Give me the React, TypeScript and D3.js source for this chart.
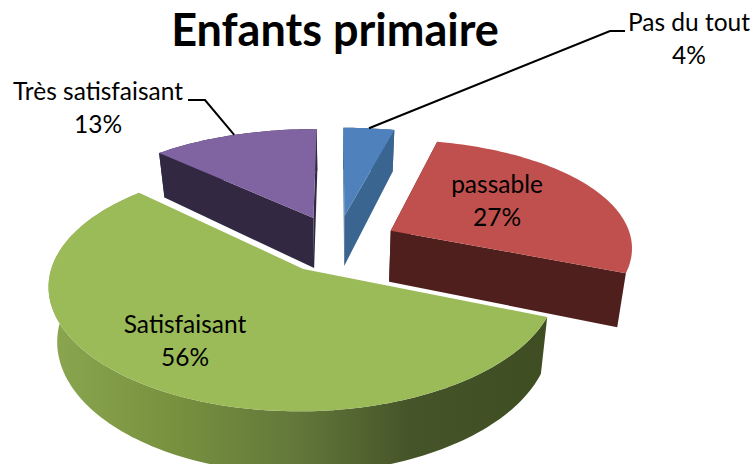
import React from 'react';
import * as d3 from 'd3';

const categories = ['Pas du tout', 'passable', 'Satisfaisant', 'Très satisfaisant'];
const values = [4, 27, 56, 13];
const topColors = ['#4F81BD', '#C0504D', '#9BBB59', '#8064A2'];
const faceColors = ['#3A6591', '#4F1F1E', '#3F4D22', '#332842'];

const width = 755;
const height = 464;
const fontFamily = 'Lato, "Open Sans", sans-serif';

// fake 3d pie: disc in a tilted plane, things further back get smaller
const cx = 337;
const cy = 243.6;
const radiusX = 245;
const radiusY = 116;
const perspectiveX = 0.135;
const perspectiveY = 0.16;
const explode = 0.25;
const depth = 52;
const bottomShrink = 0.97;

// the red slice sits a bit tighter than a true circle in the original
const rimScale = [1, 0.975, 1, 1];
const rimShift = [0, 0.012, 0, 0];

type Pt = [number, number];

const project = (u: number, v: number, lowered = false): Pt => {
  const sx = 1 + perspectiveX * v;
  const sy = 1 + perspectiveY * v;
  const x = radiusX * u * sx;
  const y = radiusY * v * sy;
  if (!lowered) return [cx + x, cy + y];
  return [cx + x * bottomShrink, cy + y + depth * sy];
};

const pieAngles = d3.pie<number>().sort(null)(values);

const rimPoints = (slice: d3.PieArcDatum<number>, lowered = false): Pt[] => {
  const mid = (slice.startAngle + slice.endAngle) / 2;
  const du = Math.sin(mid) * explode + rimShift[slice.index];
  const dv = -Math.cos(mid) * explode;
  const r = rimScale[slice.index];
  const n = Math.ceil((slice.endAngle - slice.startAngle) * 40);
  return d3.range(n + 1).map(i => {
    const a = slice.startAngle + ((slice.endAngle - slice.startAngle) * i) / n;
    return project(Math.sin(a) * r + du, -Math.cos(a) * r + dv, lowered);
  });
};

const apex = (slice: d3.PieArcDatum<number>, lowered = false): Pt => {
  const mid = (slice.startAngle + slice.endAngle) / 2;
  return project(Math.sin(mid) * explode, -Math.cos(mid) * explode, lowered);
};

const midRim = (slice: d3.PieArcDatum<number>): Pt => {
  const mid = (slice.startAngle + slice.endAngle) / 2;
  const r = 1 + explode;
  return project(Math.sin(mid) * r, -Math.cos(mid) * r);
};

const poly = d3.line().curve(d3.curveLinearClosed);

const drawOrder = [3, 0, 1, 2];

const labels = [
  { i: 0, x: 689, y: 31 },
  { i: 1, x: 497, y: 193 },
  { i: 2, x: 185, y: 333 },
  { i: 3, x: 98, y: 100 },
];

const leaders = [
  { i: 0, knee: [610, 31] as Pt, end: [625, 31] as Pt },
  { i: 3, knee: [205, 100] as Pt, end: [188, 100] as Pt },
];

export default function App() {
  return (
    <svg
      width={width}
      height={height}
      style={{ position: 'absolute', left: 0, top: 0, background: '#fff' }}
    >
      <defs>
        <linearGradient id="greenWall" gradientUnits="userSpaceOnUse" x1={50} x2={547} y1={0} y2={0}>
          <stop offset="0" stopColor="#8BA64F" />
          <stop offset="0.25" stopColor="#77913F" />
          <stop offset="0.5" stopColor="#62773A" />
          <stop offset="0.72" stopColor="#465529" />
          <stop offset="1" stopColor="#3F4D22" />
        </linearGradient>
      </defs>

      {drawOrder.map(i => {
        const slice = pieAngles[i];
        const top = rimPoints(slice);
        const low = rimPoints(slice, true);
        const a = apex(slice);
        const aLow = apex(slice, true);
        const wallFill = i === 2 ? 'url(#greenWall)' : faceColors[i];
        return (
          <g key={categories[i]}>
            {/* red rim wall is hidden in the original, only its cut face shows */}
            {i !== 1 && <path d={poly([...top, ...[...low].reverse()]) || ''} fill={wallFill} />}
            {i !== 2 && (
              <path d={poly([a, top[top.length - 1], low[low.length - 1], aLow]) || ''} fill={faceColors[i]} />
            )}
            {i !== 2 && <path d={poly([a, top[0], low[0], aLow]) || ''} fill={faceColors[i]} />}
            <path d={poly([a, ...top]) || ''} fill={topColors[i]} />
          </g>
        );
      })}

      {leaders.map(l => {
        const p = midRim(pieAngles[l.i]);
        return (
          <polyline
            key={l.i}
            points={[l.end, l.knee, p].map(q => q.join(',')).join(' ')}
            fill="none"
            stroke="#000"
            strokeWidth={2}
          />
        );
      })}

      <text
        x={335}
        y={46}
        textAnchor="middle"
        fontFamily={fontFamily}
        fontWeight={700}
        fontSize={45}
        fill="#000"
      >
        Enfants primaire
      </text>

      {labels.map(l => (
        <text key={l.i} textAnchor="middle" fontFamily={fontFamily} fontSize={24.5} fill="#000">
          <tspan x={l.x} y={l.y}>{categories[l.i]}</tspan>
          <tspan x={l.x} y={l.y + 33}>{values[l.i]}%</tspan>
        </text>
      ))}
    </svg>
  );
}
